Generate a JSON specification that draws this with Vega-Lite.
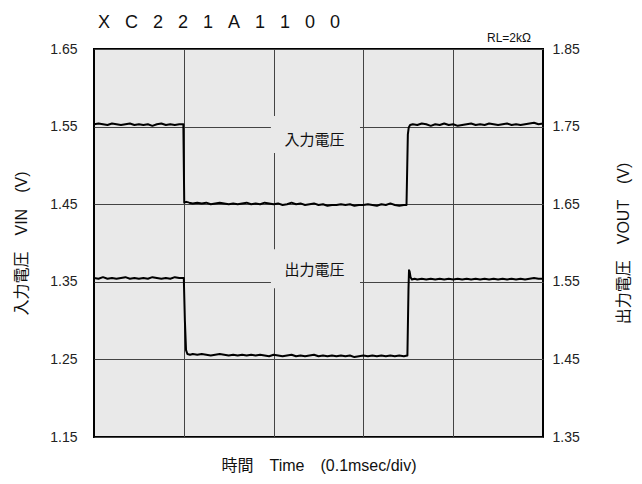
{
  "$schema": "https://vega.github.io/schema/vega-lite/v6.json",
  "width": 449,
  "height": 388,
  "autosize": {"type": "none"},
  "padding": {"left": 94, "top": 49, "right": 99, "bottom": 47},
  "background": "white",
  "title": {
    "text": "X\u00a0\u00a0\u00a0C\u00a0\u00a0\u00a02\u00a0\u00a0\u00a02\u00a0\u00a0\u00a01\u00a0\u00a0\u00a0A\u00a0\u00a0\u00a01\u00a0\u00a0\u00a01\u00a0\u00a0\u00a00\u00a0\u00a0\u00a00",
    "anchor": "start",
    "frame": "group",
    "font": "Liberation Sans",
    "fontSize": 18,
    "fontWeight": "normal",
    "color": "#111",
    "offset": 0,
    "dx": 4
  },
  "config": {
    "font": "Liberation Sans, Noto Sans CJK JP",
    "view": {"fill": "#e9e9e9", "stroke": "#000", "strokeWidth": 2},
    "axisX": {
      "grid": true, "gridColor": "#444", "gridWidth": 1, "gridOpacity": 1,
      "labels": false, "ticks": false, "domain": false,
      "titleFont": "Liberation Sans, Noto Sans CJK JP",
      "titleFontSize": 16, "titleFontWeight": "normal", "titleColor": "#111",
      "titlePadding": 20
    },
    "axisLeft": {
      "format": ".2f",
      "grid": true, "gridColor": "#444", "gridWidth": 1, "gridOpacity": 1,
      "ticks": false, "domain": false,
      "labelFont": "Liberation Sans", "labelFontSize": 14, "labelColor": "#222",
      "labelPadding": 17,
      "titleFont": "Liberation Sans, Noto Sans CJK JP",
      "titleFontSize": 16, "titleFontWeight": "normal", "titleColor": "#111",
      "titlePadding": 20
    },
    "axisRight": {
      "format": ".2f",
      "grid": false, "ticks": false, "domain": false,
      "labelFont": "Liberation Sans", "labelFontSize": 14, "labelColor": "#222",
      "labelPadding": 9,
      "titleAngle": 270,
      "titleFont": "Liberation Sans, Noto Sans CJK JP",
      "titleFontSize": 16, "titleFontWeight": "normal", "titleColor": "#111",
      "titlePadding": 52
    }
  },
  "datasets": {
    "vin": [
      {"t": 0, "v": 1.553}, {"t": 0.005, "v": 1.554}, {"t": 0.01, "v": 1.553}, {"t": 0.015, "v": 1.552},
      {"t": 0.02, "v": 1.554}, {"t": 0.025, "v": 1.553}, {"t": 0.03, "v": 1.552}, {"t": 0.035, "v": 1.553},
      {"t": 0.04, "v": 1.554}, {"t": 0.045, "v": 1.552}, {"t": 0.05, "v": 1.553}, {"t": 0.055, "v": 1.552},
      {"t": 0.06, "v": 1.553}, {"t": 0.065, "v": 1.551}, {"t": 0.07, "v": 1.553}, {"t": 0.075, "v": 1.554},
      {"t": 0.08, "v": 1.552}, {"t": 0.085, "v": 1.553}, {"t": 0.09, "v": 1.552}, {"t": 0.095, "v": 1.553},
      {"t": 0.0995, "v": 1.553},
      {"t": 0.1005, "v": 1.452}, {"t": 0.103, "v": 1.453}, {"t": 0.106, "v": 1.452}, {"t": 0.11, "v": 1.451},
      {"t": 0.115, "v": 1.452}, {"t": 0.12, "v": 1.451}, {"t": 0.125, "v": 1.452}, {"t": 0.13, "v": 1.450},
      {"t": 0.135, "v": 1.451}, {"t": 0.14, "v": 1.452}, {"t": 0.145, "v": 1.451}, {"t": 0.15, "v": 1.450},
      {"t": 0.155, "v": 1.451}, {"t": 0.16, "v": 1.450}, {"t": 0.165, "v": 1.451}, {"t": 0.17, "v": 1.452},
      {"t": 0.175, "v": 1.450}, {"t": 0.18, "v": 1.451}, {"t": 0.185, "v": 1.450}, {"t": 0.19, "v": 1.452},
      {"t": 0.195, "v": 1.451}, {"t": 0.2, "v": 1.450}, {"t": 0.205, "v": 1.451}, {"t": 0.21, "v": 1.449},
      {"t": 0.215, "v": 1.450}, {"t": 0.22, "v": 1.452}, {"t": 0.225, "v": 1.450}, {"t": 0.23, "v": 1.451},
      {"t": 0.235, "v": 1.449}, {"t": 0.24, "v": 1.450}, {"t": 0.245, "v": 1.451}, {"t": 0.25, "v": 1.449},
      {"t": 0.255, "v": 1.450}, {"t": 0.26, "v": 1.448}, {"t": 0.265, "v": 1.449}, {"t": 0.27, "v": 1.449},
      {"t": 0.275, "v": 1.450}, {"t": 0.28, "v": 1.449}, {"t": 0.285, "v": 1.450}, {"t": 0.29, "v": 1.448},
      {"t": 0.295, "v": 1.449}, {"t": 0.3, "v": 1.449}, {"t": 0.305, "v": 1.450}, {"t": 0.31, "v": 1.449},
      {"t": 0.315, "v": 1.448}, {"t": 0.32, "v": 1.450}, {"t": 0.325, "v": 1.449}, {"t": 0.33, "v": 1.451},
      {"t": 0.335, "v": 1.449}, {"t": 0.34, "v": 1.448}, {"t": 0.345, "v": 1.449}, {"t": 0.348, "v": 1.449},
      {"t": 0.3495, "v": 1.540}, {"t": 0.3505, "v": 1.549}, {"t": 0.352, "v": 1.552}, {"t": 0.355, "v": 1.553},
      {"t": 0.36, "v": 1.552}, {"t": 0.365, "v": 1.554}, {"t": 0.37, "v": 1.553}, {"t": 0.375, "v": 1.551},
      {"t": 0.38, "v": 1.553}, {"t": 0.385, "v": 1.552}, {"t": 0.39, "v": 1.554}, {"t": 0.395, "v": 1.552},
      {"t": 0.4, "v": 1.553}, {"t": 0.405, "v": 1.551}, {"t": 0.41, "v": 1.552}, {"t": 0.415, "v": 1.553},
      {"t": 0.42, "v": 1.554}, {"t": 0.425, "v": 1.552}, {"t": 0.43, "v": 1.553}, {"t": 0.435, "v": 1.552},
      {"t": 0.44, "v": 1.554}, {"t": 0.445, "v": 1.553}, {"t": 0.45, "v": 1.552}, {"t": 0.455, "v": 1.553},
      {"t": 0.46, "v": 1.554}, {"t": 0.465, "v": 1.552}, {"t": 0.47, "v": 1.553}, {"t": 0.475, "v": 1.552},
      {"t": 0.48, "v": 1.553}, {"t": 0.485, "v": 1.554}, {"t": 0.49, "v": 1.555}, {"t": 0.495, "v": 1.553},
      {"t": 0.5, "v": 1.554}
    ],
    "vout": [
      {"t": 0, "v": 1.555}, {"t": 0.005, "v": 1.554}, {"t": 0.01, "v": 1.556}, {"t": 0.015, "v": 1.554},
      {"t": 0.02, "v": 1.555}, {"t": 0.025, "v": 1.554}, {"t": 0.03, "v": 1.555}, {"t": 0.035, "v": 1.556},
      {"t": 0.04, "v": 1.554}, {"t": 0.045, "v": 1.555}, {"t": 0.05, "v": 1.554}, {"t": 0.055, "v": 1.555},
      {"t": 0.06, "v": 1.554}, {"t": 0.065, "v": 1.556}, {"t": 0.07, "v": 1.555}, {"t": 0.075, "v": 1.554},
      {"t": 0.08, "v": 1.555}, {"t": 0.085, "v": 1.554}, {"t": 0.09, "v": 1.556}, {"t": 0.095, "v": 1.555},
      {"t": 0.1, "v": 1.555},
      {"t": 0.1012, "v": 1.500}, {"t": 0.1025, "v": 1.462}, {"t": 0.104, "v": 1.457}, {"t": 0.107, "v": 1.456},
      {"t": 0.11, "v": 1.457}, {"t": 0.115, "v": 1.456}, {"t": 0.12, "v": 1.457}, {"t": 0.125, "v": 1.456},
      {"t": 0.13, "v": 1.455}, {"t": 0.135, "v": 1.456}, {"t": 0.14, "v": 1.457}, {"t": 0.145, "v": 1.456},
      {"t": 0.15, "v": 1.455}, {"t": 0.155, "v": 1.456}, {"t": 0.16, "v": 1.455}, {"t": 0.165, "v": 1.456},
      {"t": 0.17, "v": 1.455}, {"t": 0.175, "v": 1.456}, {"t": 0.18, "v": 1.455}, {"t": 0.185, "v": 1.456},
      {"t": 0.19, "v": 1.455}, {"t": 0.195, "v": 1.454}, {"t": 0.2, "v": 1.456}, {"t": 0.205, "v": 1.455},
      {"t": 0.21, "v": 1.454}, {"t": 0.215, "v": 1.455}, {"t": 0.22, "v": 1.456}, {"t": 0.225, "v": 1.454},
      {"t": 0.23, "v": 1.455}, {"t": 0.235, "v": 1.454}, {"t": 0.24, "v": 1.455}, {"t": 0.245, "v": 1.456},
      {"t": 0.25, "v": 1.454}, {"t": 0.255, "v": 1.455}, {"t": 0.26, "v": 1.454}, {"t": 0.265, "v": 1.455},
      {"t": 0.27, "v": 1.454}, {"t": 0.275, "v": 1.455}, {"t": 0.28, "v": 1.454}, {"t": 0.285, "v": 1.455},
      {"t": 0.29, "v": 1.453}, {"t": 0.295, "v": 1.454}, {"t": 0.3, "v": 1.455}, {"t": 0.305, "v": 1.454},
      {"t": 0.31, "v": 1.455}, {"t": 0.315, "v": 1.454}, {"t": 0.32, "v": 1.455}, {"t": 0.325, "v": 1.454},
      {"t": 0.33, "v": 1.455}, {"t": 0.335, "v": 1.454}, {"t": 0.34, "v": 1.455}, {"t": 0.345, "v": 1.454},
      {"t": 0.349, "v": 1.455},
      {"t": 0.3502, "v": 1.540}, {"t": 0.3508, "v": 1.565}, {"t": 0.3515, "v": 1.563}, {"t": 0.3525, "v": 1.556},
      {"t": 0.354, "v": 1.553}, {"t": 0.357, "v": 1.554}, {"t": 0.36, "v": 1.553}, {"t": 0.365, "v": 1.554},
      {"t": 0.37, "v": 1.553}, {"t": 0.375, "v": 1.554}, {"t": 0.38, "v": 1.553}, {"t": 0.385, "v": 1.554},
      {"t": 0.39, "v": 1.553}, {"t": 0.395, "v": 1.554}, {"t": 0.4, "v": 1.553}, {"t": 0.405, "v": 1.554},
      {"t": 0.41, "v": 1.553}, {"t": 0.415, "v": 1.554}, {"t": 0.42, "v": 1.553}, {"t": 0.425, "v": 1.554},
      {"t": 0.43, "v": 1.553}, {"t": 0.435, "v": 1.554}, {"t": 0.44, "v": 1.553}, {"t": 0.445, "v": 1.554},
      {"t": 0.45, "v": 1.553}, {"t": 0.455, "v": 1.554}, {"t": 0.46, "v": 1.553}, {"t": 0.465, "v": 1.554},
      {"t": 0.47, "v": 1.553}, {"t": 0.475, "v": 1.554}, {"t": 0.48, "v": 1.553}, {"t": 0.485, "v": 1.554},
      {"t": 0.49, "v": 1.555}, {"t": 0.495, "v": 1.554}, {"t": 0.5, "v": 1.554}
    ],
    "labels": [
      {"label": "入力電圧", "t0": 0.197, "t1": 0.2962, "v0": 1.516, "v1": 1.5635, "tc": 0.2455, "vc": 1.533},
      {"label": "出力電圧", "t0": 0.197, "t1": 0.2962, "v0": 1.3416, "v1": 1.392, "tc": 0.2455, "vc": 1.3655}
    ]
  },
  "layer": [
    {
      "layer": [
        {
          "data": {"name": "labels"},
          "mark": {"type": "rect", "fill": "#e9e9e9"},
          "encoding": {
            "x": {"field": "t0", "type": "quantitative", "scale": {"domain": [0, 0.5], "nice": false, "zero": false}, "title": "時間　Time　(0.1msec/div)", "axis": {"values": [0.1, 0.2, 0.3, 0.4]}},
            "x2": {"field": "t1"},
            "y": {"field": "v0", "type": "quantitative", "scale": {"domain": [1.15, 1.65], "nice": false, "zero": false}, "title": "入力電圧　VIN　(V)", "axis": {"values": [1.15, 1.25, 1.35, 1.45, 1.55, 1.65]}},
            "y2": {"field": "v1"}
          }
        },
        {
          "data": {"name": "labels"},
          "mark": {"type": "text", "fontSize": 15, "color": "#111", "font": "Noto Sans CJK JP"},
          "encoding": {
            "x": {"field": "tc", "type": "quantitative", "title": "時間　Time　(0.1msec/div)", "axis": {"values": [0.1, 0.2, 0.3, 0.4]}},
            "y": {"field": "vc", "type": "quantitative", "title": "入力電圧　VIN　(V)", "axis": {"values": [1.15, 1.25, 1.35, 1.45, 1.55, 1.65]}},
            "text": {"field": "label"}
          }
        },
        {
          "data": {"name": "vin"},
          "mark": {"type": "line", "color": "#000", "strokeWidth": 2, "strokeJoin": "round", "clip": true},
          "encoding": {
            "x": {"field": "t", "type": "quantitative", "title": "時間　Time　(0.1msec/div)", "axis": {"values": [0.1, 0.2, 0.3, 0.4]}},
            "y": {"field": "v", "type": "quantitative", "title": "入力電圧　VIN　(V)", "axis": {"values": [1.15, 1.25, 1.35, 1.45, 1.55, 1.65]}}
          }
        },
        {
          "data": {"values": [{"note": "RL=2kΩ"}]},
          "mark": {"type": "text", "fontSize": 12, "color": "#111", "align": "right", "baseline": "middle", "dx": -12, "dy": -11, "font": "Liberation Sans"},
          "encoding": {
            "x": {"datum": 0.5, "type": "quantitative", "title": "時間　Time　(0.1msec/div)", "axis": {"values": [0.1, 0.2, 0.3, 0.4]}},
            "y": {"datum": 1.65, "type": "quantitative", "title": "入力電圧　VIN　(V)", "axis": {"values": [1.15, 1.25, 1.35, 1.45, 1.55, 1.65]}},
            "text": {"field": "note"}
          }
        }
      ]
    },
    {
      "data": {"name": "vout"},
      "mark": {"type": "line", "color": "#000", "strokeWidth": 2, "strokeJoin": "round", "clip": true},
      "encoding": {
        "x": {"field": "t", "type": "quantitative", "title": "時間　Time　(0.1msec/div)", "axis": {"values": [0.1, 0.2, 0.3, 0.4]}},
        "y": {
          "field": "v", "type": "quantitative",
          "scale": {"domain": [1.35, 1.85], "nice": false, "zero": false},
          "axis": {"orient": "right", "values": [1.35, 1.45, 1.55, 1.65, 1.75, 1.85]},
          "title": "出力電圧　VOUT　(V)"
        }
      }
    }
  ],
  "resolve": {"scale": {"y": "independent"}, "axis": {"y": "independent"}}
}
